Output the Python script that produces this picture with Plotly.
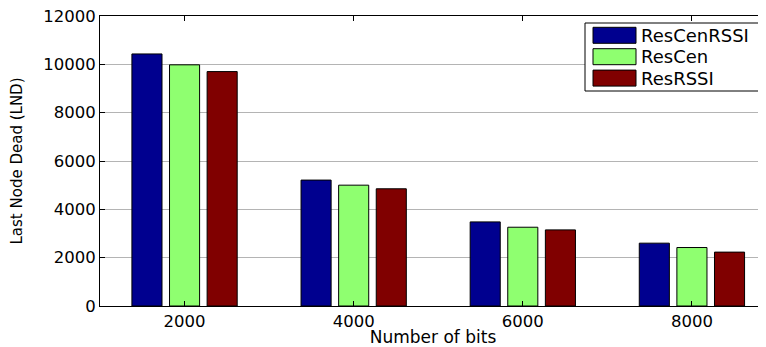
import plotly.graph_objects as go

categories = ["2000", "4000", "6000", "8000"]
series_names = ["ResCenRSSI", "ResCen", "ResRSSI"]
res_cen_rssi = [10430, 5210, 3480, 2600]
res_cen = [9980, 5000, 3260, 2420]
res_rssi = [9700, 4850, 3150, 2230]
y_ticks = [0, 2000, 4000, 6000, 8000, 10000, 12000]
y_tick_labels = ["0", "2000", "4000", "6000", "8000", "10000", "12000"]

colors = ["#00008F", "#8FFF70", "#800000"]
values = [res_cen_rssi, res_cen, res_rssi]

FONT = "DejaVu Sans"

# The page body adds an 8px offset, so the figure is 8px smaller than the window.
W, H = 758, 339
ML, MR, MT, MB = 92, 0, 8, 41
PW, PH = W - ML - MR, H - MT - MB


def px_x(wx):
    """window pixel x -> paper x"""
    return (wx - 8 - ML) / PW


def px_y(wy):
    """window pixel y -> paper y"""
    return 1 - (wy - 8 - MT) / PH


fig = go.Figure()
for name, vals, col in zip(series_names, values, colors):
    fig.add_trace(go.Bar(
        x=categories, y=vals, name=name, showlegend=False,
        marker=dict(color=col, line=dict(color="black", width=1)),
    ))

# legend box (MATLAB style, wide colour swatches)
shapes = [dict(type="rect", xref="paper", yref="paper",
               x0=px_x(585), x1=px_x(770), y0=px_y(91), y1=px_y(23),
               line=dict(color="black", width=1), fillcolor="white", layer="above")]
annotations = []
row_top = 27.3
row_step = 21.4
for i, (name, col) in enumerate(zip(series_names, colors)):
    t = row_top + i * row_step
    shapes.append(dict(type="rect", xref="paper", yref="paper",
                       x0=px_x(593), x1=px_x(636), y0=px_y(t + 16), y1=px_y(t),
                       line=dict(color="black", width=1), fillcolor=col, layer="above"))
    annotations.append(dict(xref="paper", yref="paper", x=px_x(639), y=px_y(t + 8),
                            xanchor="left", yanchor="middle", showarrow=False,
                            text=name, font=dict(family=FONT, size=18, color="black")))

fig.update_layout(
    width=W, height=H,
    margin=dict(l=ML, r=MR, t=MT, b=MB, autoexpand=False),
    paper_bgcolor="white", plot_bgcolor="white",
    barmode="group", bargap=0.333, bargroupgap=0.2,
    font=dict(family=FONT, size=16, color="black"),
    showlegend=False,
    shapes=shapes, annotations=annotations,
)

fig.update_xaxes(
    type="category", range=[-0.5, 3.438], automargin=False,
    showline=True, linecolor="black", linewidth=1, mirror="ticks",
    ticks="inside", ticklen=5, tickcolor="black",
    showgrid=False, zeroline=False,
    tickfont=dict(family=FONT, size=16.5),
    title=dict(text="Number of bits", font=dict(family=FONT, size=17), standoff=0),
)
fig.update_yaxes(
    range=[0, 12000], tickvals=y_ticks, ticktext=y_tick_labels, automargin=False,
    showline=True, linecolor="black", linewidth=1,
    ticks="inside", ticklen=5, tickcolor="black",
    showgrid=True, gridcolor="#b4b4b4", gridwidth=1, zeroline=False,
    tickfont=dict(family=FONT, size=16.5), ticklabelstandoff=0,
    ticklabeloverflow="allow",
    title=dict(text="Last Node Dead (LND)", font=dict(family=FONT, size=15), standoff=20),
)

fig.write_html("out.html")
